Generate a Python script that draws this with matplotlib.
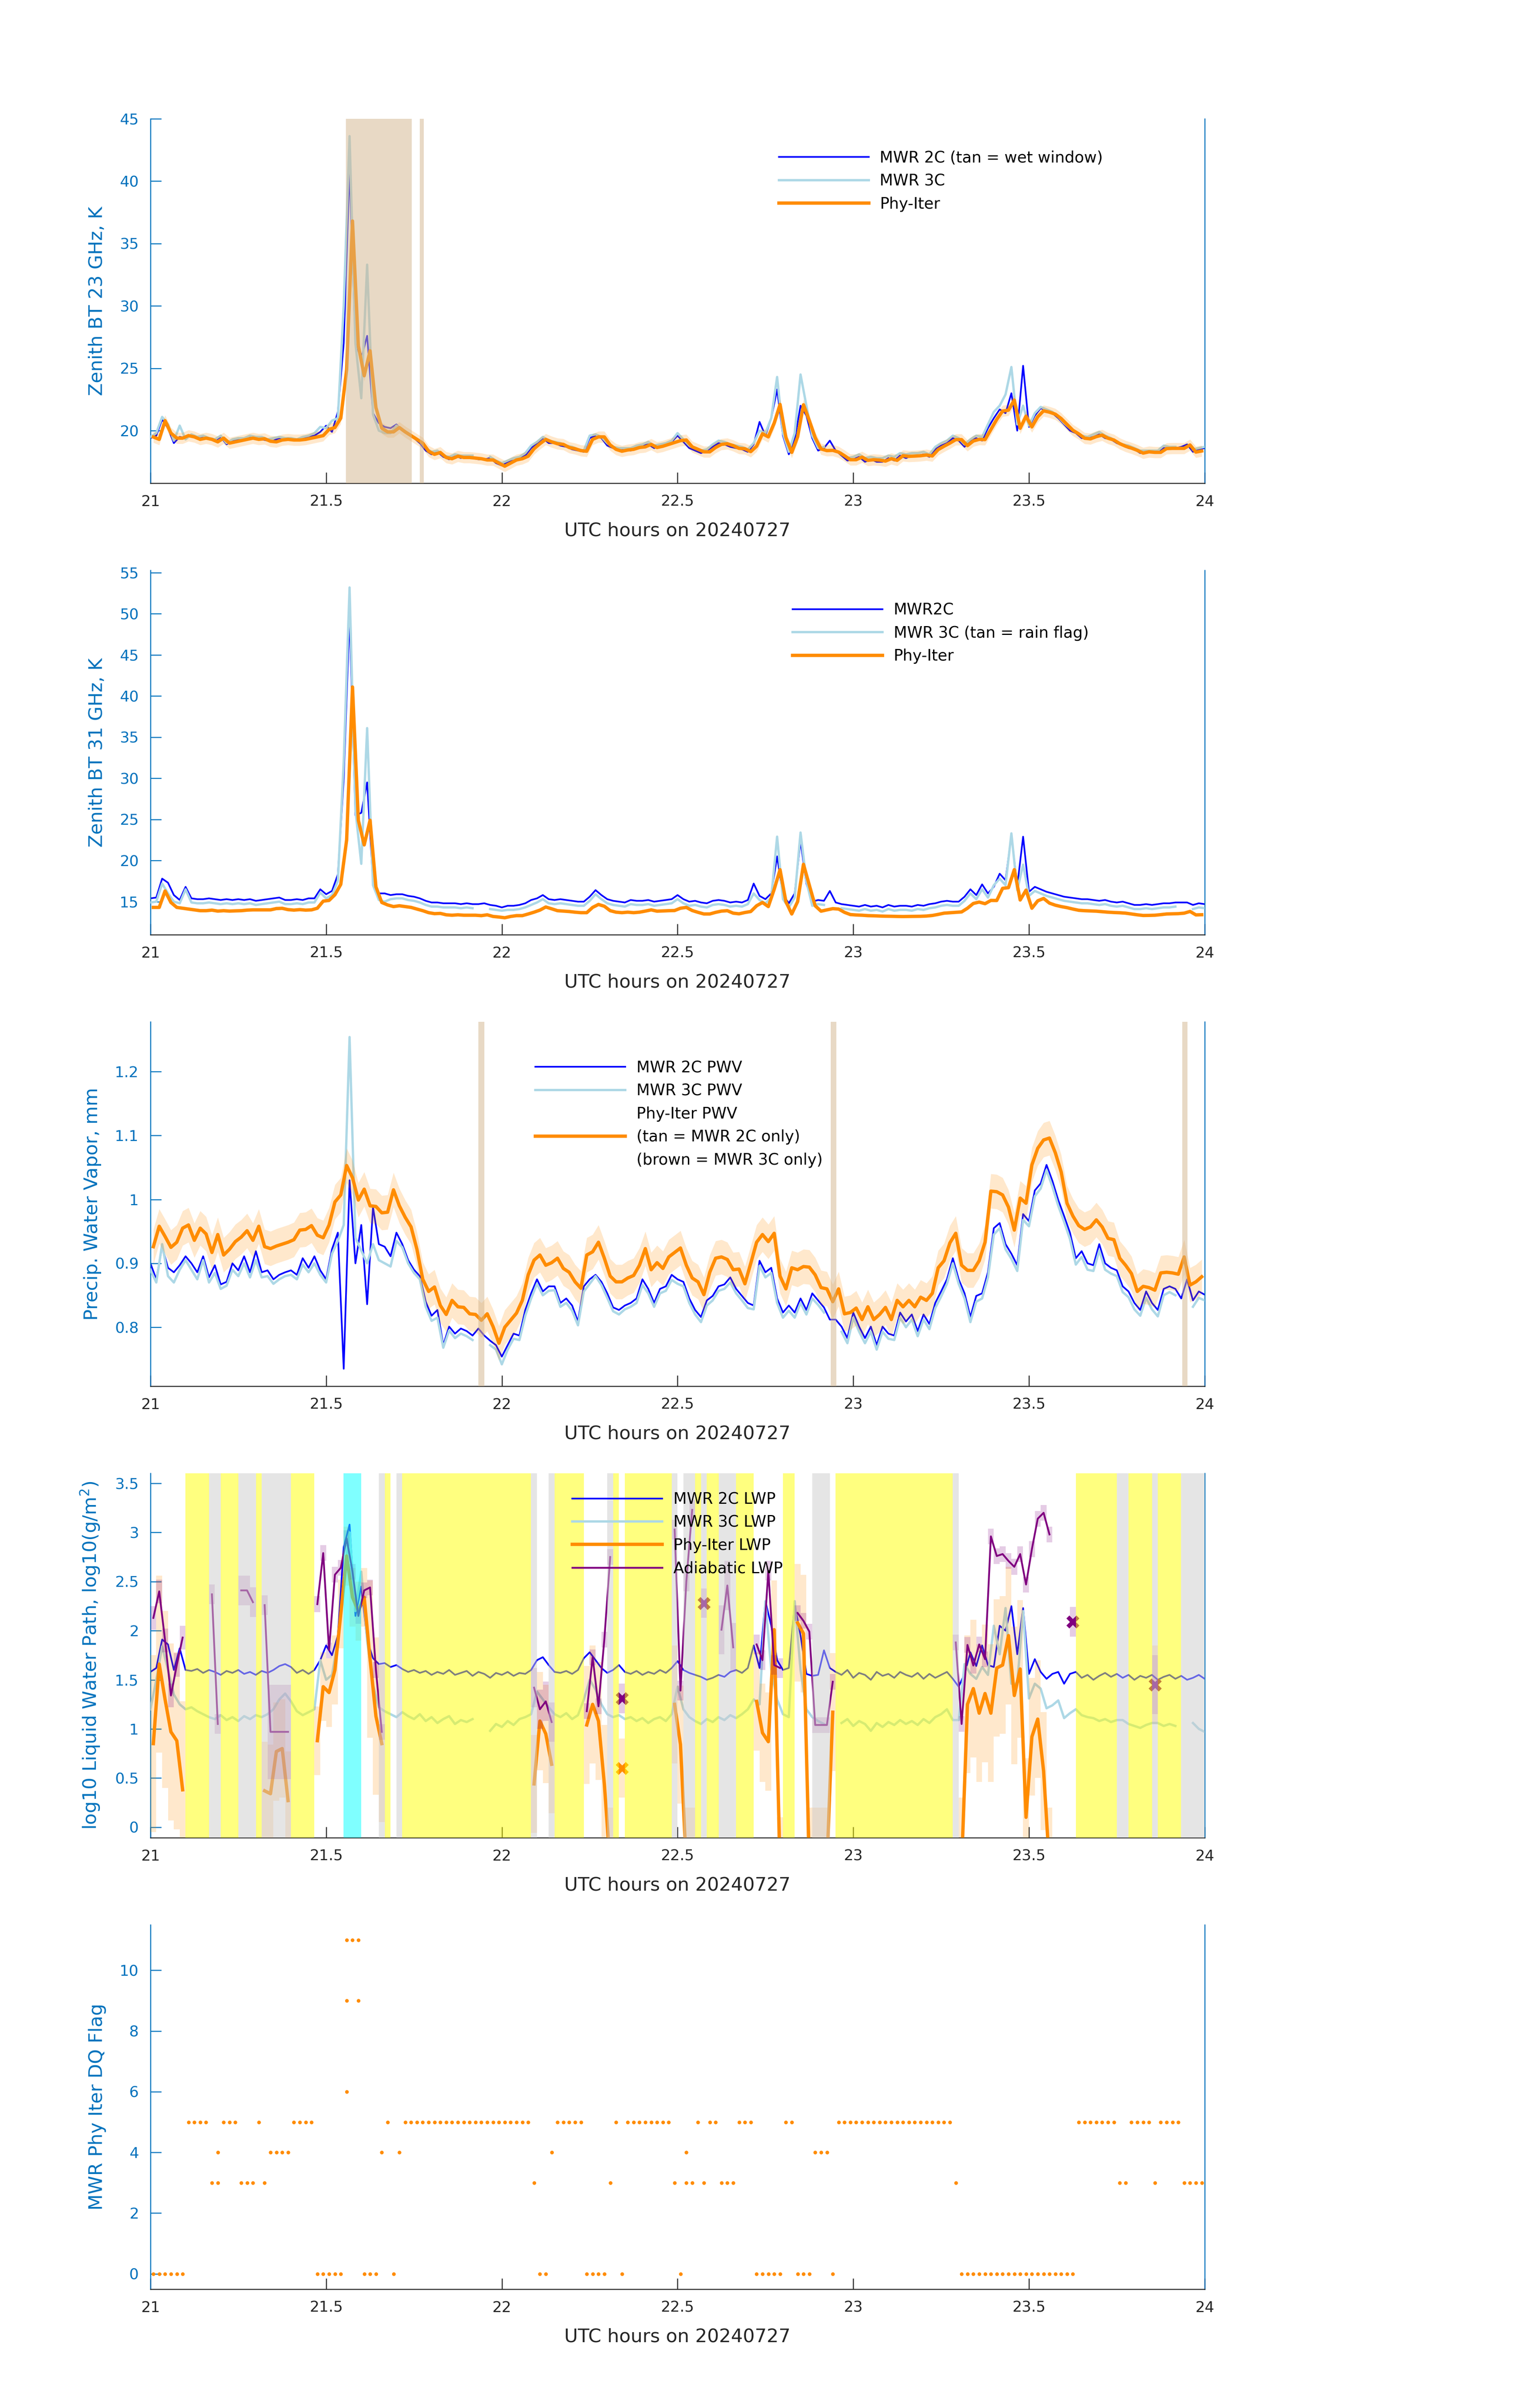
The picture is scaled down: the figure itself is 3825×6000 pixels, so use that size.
import numpy as np
import matplotlib
matplotlib.use("Agg")
import matplotlib.pyplot as plt
from matplotlib.ticker import FuncFormatter
from matplotlib.lines import Line2D

nan = np.nan

# ======================= DATA =======================
# MWR samples: one per minute starting 21:00 UTC.  Phy-Iter samples: one per minute, centred on hh:mm:30.

# ---- Panel 1: zenith BT 23 GHz (K)
p1_2c = [19.4, 19.6, 20.9, 20.2, 19.0, 19.5, 19.4, 19.6, 19.4, 19.5,
         19.3, 19.2, 19.5, 18.9, 19.2, 19.3, 19.2, 19.5, 19.4, 19.3,
         19.2, 19.2, 19.4, 19.3, 19.3, 19.2, 19.4, 19.5, 19.6, 19.9,
         20.4, 19.9, 21.5, 27.0, 41.0, 27.0, 25.8, 27.6, 21.4, 20.6,
         20.3, 20.2, 20.5, 20.0, 19.7, 19.4, 19.0, 18.4, 18.1, 18.3,
         17.9, 17.7, 18.0, 17.8, 17.9, 17.8, 17.7, 17.7, 17.8, 17.4,
         17.2, 17.5, 17.6, 17.8, 18.0, 18.6, 19.0, 19.4, 19.0, 19.0,
         18.8, 18.7, 18.5, 18.4, 18.3, 19.4, 19.6, 19.4, 18.8, 18.6,
         18.4, 18.5, 18.4, 18.6, 18.8, 18.9, 18.6, 18.8, 18.9, 19.1,
         19.6, 19.1, 18.6, 18.4, 18.2, 18.4, 18.7, 19.0, 18.9, 18.7,
         18.6, 18.5, 18.3, 18.9, 20.7, 19.6, 21.0, 23.3, 19.6, 18.1,
         19.3, 22.0, 21.2, 19.4, 18.4, 18.6, 19.2, 18.4, 18.0, 17.6,
         17.7, 17.9, 17.5, 17.7, 17.5, 17.5, 17.8, 17.6, 18.0, 17.8,
         18.0, 18.0, 18.1, 17.9, 18.5, 18.8, 19.0, 19.4, 19.2, 18.7,
         19.2, 19.4, 19.2, 20.2, 21.0, 21.7, 21.4, 23.0, 20.0, 25.2,
         20.3, 21.2, 21.8, 21.6, 21.4, 21.0, 20.5, 20.0, 19.8, 19.4,
         19.4, 19.5, 19.7, 19.4, 19.3, 19.0, 18.8, 18.6, 18.5, 18.2,
         18.3, 18.3, 18.2, 18.6, 18.6, 18.6, 18.7, 18.9, 18.3, 18.5, 18.6]
p1_3c = [19.5, 19.8, 21.1, 20.5, 19.2, 20.4, 19.3, 19.7, 19.5, 19.6,
         19.4, 19.3, 19.6, 19.0, 19.3, 19.4, 19.4, 19.6, 19.5, 19.5,
         19.3, 19.4, 19.5, 19.4, 19.4, 19.3, 19.5, 19.6, 19.8, 20.3,
         20.2, 20.8, 21.0, 30.0, 43.6, 27.0, 22.6, 33.3, 21.3, 20.0,
         19.8, 19.8, 20.4, 20.1, 19.8, 19.5, 19.2, 18.6, 18.3, 18.4,
         18.0, 17.9, 18.1, 18.0, 18.0, 18.0, nan, nan, 17.9, 17.6,
         17.4, 17.6, 17.8, 17.9, 18.2, 18.8, 19.1, 19.5, 19.2, 19.1,
         19.0, 18.8, 18.7, 18.5, 18.4, 19.6, 19.7, 19.5, 19.0, 18.7,
         18.6, 18.6, 18.6, 18.8, 18.9, 19.1, 18.8, 18.9, 19.0, 19.2,
         19.8, 19.3, 18.8, 18.6, 18.4, 18.5, 18.9, 19.2, 19.1, 18.9,
         18.8, 18.7, 18.5, 19.0, 20.0, 19.8, 21.0, 24.3, 19.8, 18.3,
         19.8, 24.5, 22.0, 19.6, 18.6, 18.7, nan, nan, 18.2, 17.8,
         17.9, 18.1, 17.8, 17.9, 17.8, 17.8, 18.0, 17.9, 18.2, 18.1,
         18.2, 18.2, 18.3, 18.1, 18.7, 19.0, 19.2, 19.6, 19.4, 18.9,
         19.3, 19.6, 19.5, 20.5, 21.5, 22.0, 22.9, 25.1, 20.5, 22.0,
         20.4, 21.4, 21.9, 21.7, 21.5, 21.1, 20.6, 20.2, 19.9, 19.6,
         19.5, 19.7, 19.9, 19.6, 19.4, 19.1, 18.9, 18.8, 18.6, 18.4,
         18.4, 18.4, 18.4, 18.8, 18.7, 18.7, nan, nan, 18.5, 18.6, 18.7]
p1_pi = [19.49, 19.3, 20.8, 19.8, 19.4, 19.4, 19.6, 19.5, 19.3, 19.4,
         19.3, 19.1, 19.4, 19.0, 19.1, 19.2, 19.3, 19.4, 19.3, 19.35,
         19.15, 19.1, 19.25, 19.3, 19.25, 19.25, 19.3, 19.4, 19.5, 19.6,
         20.1, 20.25, 21.0, 24.9, 36.8, 26.8, 24.4, 26.4, 21.85, 20.2,
         19.9, 19.9, 20.25, 19.9, 19.6, 19.3, 19.0, 18.35, 18.1, 18.25,
         17.85, 17.75, 17.95, 17.85, 17.85, 17.8, 17.75, 17.65, 17.65, 17.4,
         17.15, 17.4, 17.65, 17.75, 17.95, 18.55, 18.95, 19.3, 19.1, 18.95,
         18.9, 18.65, 18.55, 18.4, 18.35, 19.3, 19.5, 19.5, 18.85, 18.5,
         18.35, 18.45, 18.5, 18.65, 18.7, 18.9, 18.65, 18.75, 18.9, 19.05,
         19.2, 19.25, 18.7, 18.5, 18.3, 18.3, 18.65, 18.9, 18.95, 18.8,
         18.58, 18.55, 18.32, 18.75, 19.75, 19.5, 20.6, 22.1, 19.45, 18.26,
         19.5, 22.07, 20.8, 19.44, 18.53, 18.4, 18.42, 18.28, 17.99, 17.67,
         17.67, 17.88, 17.62, 17.67, 17.64, 17.56, 17.75, 17.62, 17.99, 17.94,
         17.96, 17.99, 18.05, 17.97, 18.48, 18.75, 19.0, 19.28, 19.28, 18.8,
         19.17, 19.3, 19.28, 20.09, 20.9, 21.57, 21.64, 22.45, 20.19, 21.16,
         20.3, 21.11, 21.59, 21.48, 21.32, 20.97, 20.5, 20.03, 19.74, 19.39,
         19.34, 19.52, 19.64, 19.39, 19.25, 18.96, 18.75, 18.6, 18.42, 18.2,
         18.3, 18.26, 18.26, 18.56, 18.58, 18.58, 18.58, 18.85, 18.28, 18.37]
p1_pi_err = 0.45
p1_tan_spans = [(21.556, 21.744), (21.767, 21.778)]

# ---- Panel 2: zenith BT 31 GHz (K)
p2_2c = [15.4, 15.5, 17.8, 17.3, 15.8, 15.2, 16.8, 15.4, 15.3, 15.3,
         15.4, 15.3, 15.2, 15.3, 15.2, 15.3, 15.2, 15.3, 15.1, 15.2,
         15.3, 15.4, 15.5, 15.2, 15.2, 15.3, 15.2, 15.4, 15.4, 16.5,
         15.9, 16.3, 18.3, 30.0, 49.9, 25.5, 25.8, 29.5, 17.5, 16.0,
         16.0, 15.8, 15.9, 15.9, 15.7, 15.6, 15.4, 15.1, 14.9, 14.9,
         14.8, 14.8, 14.8, 14.7, 14.8, 14.7, 14.7, 14.8, 14.6, 14.5,
         14.3, 14.5, 14.5, 14.6, 14.8, 15.2, 15.4, 15.8, 15.3, 15.2,
         15.3, 15.2, 15.1, 15.0, 15.0, 15.6, 16.4, 15.8, 15.3, 15.1,
         15.0, 14.9, 15.2, 15.1, 15.1, 15.2, 15.0, 15.1, 15.2, 15.3,
         15.8, 15.3, 15.0, 15.1, 14.9, 14.8, 15.1, 15.2, 15.1, 14.9,
         15.0, 14.9, 15.2, 17.2, 15.7, 15.3, 16.0, 20.5, 15.8, 14.8,
         16.0, 22.4, 17.2, 15.0, 15.2, 15.1, 16.3, 14.9, 14.7, 14.6,
         14.5, 14.4, 14.6, 14.4, 14.5, 14.3, 14.6, 14.4, 14.5, 14.5,
         14.4, 14.6, 14.5, 14.7, 14.8, 15.0, 15.1, 15.0, 15.0, 15.6,
         16.5, 15.8, 17.1, 16.0, 16.8, 18.4, 17.6, 23.1, 16.9, 22.9,
         16.2, 16.8, 16.5, 16.2, 16.0, 15.8, 15.6, 15.5, 15.4, 15.3,
         15.3, 15.2, 15.1, 15.2, 15.0, 14.9, 15.0, 14.8, 14.6, 14.6,
         14.7, 14.6, 14.7, 14.8, 14.8, 14.9, 14.9, 14.9, 14.6, 14.8, 14.7]
p2_3c = [14.9, 15.0, 17.2, 16.0, 15.0, 14.8, 16.5, 14.9, 14.8, 14.8,
         14.9, 14.8, 14.7, 14.8, 14.7, 14.8, 14.7, 14.8, 14.6, 14.7,
         14.8, 14.9, 15.0, 14.7, 14.7, 14.8, 14.7, 14.9, 14.9, 16.1,
         15.4, 15.8, 17.5, 32.0, 53.2, 26.1, 19.6, 36.1, 17.0, 15.2,
         15.0, 15.3, 15.4, 15.4, 15.2, 15.1, 14.9, 14.6, 14.4, 14.4,
         14.3, 14.3, 14.3, 14.2, 14.3, 14.2, nan, nan, 14.1, 14.0,
         13.9, 14.0, 14.0, 14.1, 14.3, 14.6, 14.9, 15.3, 14.8, 14.7,
         14.8, 14.7, 14.6, 14.5, 14.5, 15.1, 15.9, 15.3, 14.8, 14.6,
         14.5, 14.4, 14.7, 14.6, 14.6, 14.7, 14.5, 14.6, 14.7, 14.8,
         15.3, 14.8, 14.5, 14.6, 14.4, 14.3, 14.6, 14.7, 14.6, 14.4,
         14.5, 14.4, 14.7, 16.0, 15.2, 14.8, 15.5, 22.9, 15.3, 14.3,
         15.5, 23.4, 17.5, 14.5, 14.7, 14.6, nan, nan, 14.2, 14.1,
         14.0, 13.9, 14.1, 13.9, 14.0, 13.8, 14.1, 13.9, 14.0, 14.0,
         13.9, 14.1, 14.0, 14.2, 14.3, 14.5, 14.6, 14.5, 14.5, 15.1,
         16.0, 15.3, 16.5, 15.5, 17.0, 17.8, 17.0, 23.3, 16.4, 19.5,
         15.7, 16.3, 16.0, 15.7, 15.5, 15.3, 15.1, 15.0, 14.9, 14.8,
         14.8, 14.7, 14.6, 14.7, 14.5, 14.4, 14.5, 14.3, 14.1, 14.1,
         14.2, 14.1, 14.2, 14.3, 14.3, 14.4, nan, nan, 14.1, 14.3, 14.2]
p2_pi = [14.3, 14.3, 16.3, 14.9, 14.3, 14.2, 14.1, 14.0, 13.9, 13.9,
         13.97, 13.85, 13.9, 13.85, 13.88, 13.9, 13.97, 14.0, 14.0, 14.0,
         14.0, 14.16, 14.19, 14.03, 13.97, 14.03, 13.97, 14.0, 14.2, 15.06,
         15.15, 15.84, 17.1, 22.5, 41.1, 24.9, 21.9, 24.9, 16.8, 14.9,
         14.6, 14.4, 14.5, 14.4, 14.3, 14.1, 13.9, 13.66, 13.54, 13.57,
         13.4, 13.35, 13.4, 13.35, 13.35, 13.35, 13.3, 13.4, 13.2, 13.13,
         13.04, 13.2, 13.3, 13.3, 13.5, 13.72, 13.97, 14.35, 14.13, 13.9,
         13.85, 13.8, 13.72, 13.66, 13.66, 14.3, 14.66, 14.44, 13.9, 13.72,
         13.66, 13.72, 13.66, 13.72, 13.85, 14.0, 13.84, 13.87, 13.9, 13.92,
         14.2, 14.3, 13.92, 13.7, 13.5, 13.5, 13.7, 13.85, 13.9, 13.6,
         13.52, 13.68, 13.8, 14.5, 14.9, 14.4, 16.5, 18.89, 15.0, 13.5,
         15.0, 19.54, 17.0, 14.5, 13.84, 14.0, 14.15, 14.1, 13.7, 13.43,
         13.38, 13.35, 13.3, 13.28, 13.25, 13.23, 13.22, 13.2, 13.19, 13.2,
         13.21, 13.22, 13.25, 13.32, 13.45, 13.6, 13.65, 13.7, 13.75, 14.2,
         14.78, 14.95, 14.75, 15.15, 15.14, 16.62, 16.7, 18.89, 15.2, 16.4,
         14.2, 15.1, 15.39, 14.82, 14.57, 14.4, 14.27, 14.1, 13.95, 13.9,
         13.87, 13.84, 13.78, 13.72, 13.68, 13.65, 13.6, 13.5, 13.4, 13.32,
         13.33, 13.35, 13.42, 13.5, 13.52, 13.54, 13.6, 13.81, 13.39, 13.41]
p2_pi_err = 0.15

# ---- Panel 3: precipitable water vapour (mm)
p3_2c = [0.900, 0.875, 0.926, 0.893, 0.886, 0.897, 0.911, 0.900, 0.886, 0.911,
         0.878, 0.897, 0.867, 0.871, 0.900, 0.889, 0.911, 0.886, 0.919, 0.886,
         0.889, 0.875, 0.882, 0.886, 0.889, 0.882, 0.908, 0.893, 0.911, 0.889,
         0.875, 0.922, 0.948, 0.735, 1.030, 0.900, 0.960, 0.836, 0.988, 0.930,
         0.926, 0.911, 0.948, 0.930, 0.905, 0.890, 0.880, 0.840, 0.818, 0.827,
         0.772, 0.801, 0.790, 0.798, 0.794, 0.787, 0.798, 0.787, 0.779, 0.772,
         0.754, 0.772, 0.790, 0.787, 0.827, 0.853, 0.875, 0.856, 0.864, 0.864,
         0.838, 0.845, 0.834, 0.809, 0.864, 0.875, 0.882, 0.871, 0.853, 0.831,
         0.827, 0.834, 0.838, 0.845, 0.875, 0.860, 0.838, 0.860, 0.864, 0.882,
         0.875, 0.871, 0.845, 0.827, 0.816, 0.842, 0.849, 0.864, 0.867, 0.878,
         0.860, 0.849, 0.838, 0.834, 0.904, 0.886, 0.893, 0.845, 0.823, 0.834,
         0.823, 0.845, 0.827, 0.853, 0.842, 0.831, 0.812, 0.812, 0.801, 0.783,
         0.823, 0.801, 0.783, 0.801, 0.772, 0.801, 0.790, 0.787, 0.823, 0.809,
         0.820, 0.794, 0.820, 0.805, 0.838, 0.856, 0.875, 0.908, 0.875, 0.853,
         0.816, 0.849, 0.853, 0.886, 0.955, 0.963, 0.930, 0.915, 0.897, 0.977,
         0.966, 1.014, 1.025, 1.054, 1.029, 0.999, 0.974, 0.948, 0.908, 0.919,
         0.900, 0.897, 0.930, 0.900, 0.893, 0.889, 0.864, 0.856, 0.838, 0.827,
         0.856, 0.838, 0.827, 0.860, 0.864, 0.860, 0.845, 0.875, 0.842, 0.856, 0.851]
p3_3c = [0.890, 0.870, 0.930, 0.880, 0.870, 0.890, 0.905, 0.890, 0.875, 0.905,
         0.870, 0.885, 0.860, 0.865, 0.890, 0.880, 0.900, 0.878, 0.905, 0.878,
         0.880, 0.868, 0.875, 0.880, 0.882, 0.875, 0.898, 0.886, 0.900, 0.882,
         0.870, 0.915, 0.935, 0.960, 1.254, 0.940, 0.920, 0.900, 0.930, 0.905,
         0.900, 0.895, 0.935, 0.925, 0.900, 0.885, 0.875, 0.832, 0.810, 0.815,
         0.768, 0.795, 0.783, 0.790, 0.786, 0.780, nan, nan, 0.772, 0.765,
         0.742, 0.765, 0.782, 0.780, 0.818, 0.845, 0.868, 0.850, 0.857, 0.858,
         0.832, 0.838, 0.826, 0.803, 0.856, 0.868, 0.880, 0.866, 0.846, 0.825,
         0.820, 0.828, 0.832, 0.838, 0.866, 0.853, 0.832, 0.853, 0.857, 0.874,
         0.868, 0.864, 0.838, 0.820, 0.808, 0.834, 0.842, 0.857, 0.860, 0.870,
         0.853, 0.842, 0.830, 0.828, 0.896, 0.878, 0.885, 0.838, 0.815, 0.826,
         0.815, 0.838, 0.820, 0.845, 0.835, 0.823, nan, nan, 0.793, 0.775,
         0.815, 0.793, 0.775, 0.793, 0.765, 0.793, 0.782, 0.780, 0.815, 0.800,
         0.812, 0.786, 0.812, 0.797, 0.830, 0.848, 0.868, 0.900, 0.868, 0.845,
         0.808, 0.840, 0.845, 0.878, 0.945, 0.955, 0.922, 0.907, 0.888, 0.968,
         0.958, 1.005, 1.017, 1.046, 1.020, 0.990, 0.965, 0.938, 0.898, 0.910,
         0.890, 0.888, 0.920, 0.890, 0.884, 0.880, 0.855, 0.847, 0.828, 0.818,
         0.846, 0.828, 0.817, 0.850, 0.855, 0.850, nan, nan, 0.832, 0.846, 0.842]
p3_pi = [0.926, 0.958, 0.942, 0.925, 0.933, 0.955, 0.960, 0.936, 0.955, 0.946,
         0.917, 0.945, 0.913, 0.922, 0.934, 0.941, 0.951, 0.936, 0.958, 0.926,
         0.923, 0.927, 0.930, 0.933, 0.937, 0.952, 0.953, 0.959, 0.944, 0.940,
         0.960, 0.996, 1.007, 1.053, 1.034, 0.999, 1.016, 0.990, 0.989, 0.979,
         0.980, 1.015, 0.990, 0.972, 0.957, 0.922, 0.875, 0.856, 0.863, 0.834,
         0.820, 0.842, 0.832, 0.831, 0.821, 0.820, 0.811, 0.821, 0.801, 0.775,
         0.800, 0.811, 0.822, 0.842, 0.882, 0.905, 0.913, 0.897, 0.901, 0.908,
         0.892, 0.886, 0.871, 0.861, 0.913, 0.918, 0.933, 0.908, 0.880, 0.871,
         0.871, 0.877, 0.881, 0.897, 0.923, 0.890, 0.901, 0.892, 0.910, 0.917,
         0.924, 0.897, 0.877, 0.871, 0.851, 0.886, 0.908, 0.910, 0.906, 0.890,
         0.891, 0.868, 0.900, 0.933, 0.945, 0.934, 0.947, 0.880, 0.860, 0.893,
         0.890, 0.895, 0.894, 0.882, 0.862, 0.860, 0.840, 0.860, 0.821, 0.823,
         0.830, 0.812, 0.832, 0.812, 0.820, 0.831, 0.812, 0.842, 0.832, 0.842,
         0.832, 0.847, 0.842, 0.853, 0.893, 0.904, 0.932, 0.947, 0.897, 0.889,
         0.889, 0.904, 0.933, 1.013, 1.012, 1.007, 0.988, 0.952, 1.002, 0.994,
         1.054, 1.080, 1.093, 1.096, 1.073, 1.043, 0.994, 0.974, 0.959, 0.953,
         0.957, 0.968, 0.957, 0.939, 0.937, 0.908, 0.897, 0.884, 0.856, 0.864,
         0.862, 0.858, 0.885, 0.886, 0.885, 0.883, 0.910, 0.866, 0.871, 0.879]
p3_pi_err = 0.027
p3_tan_spans = [(21.933, 21.950), (22.936, 22.952), (23.936, 23.951)]

# ---- Panel 4: log10 LWP
p4_2c = [1.58, 1.62, 1.91, 1.86, 1.60, 1.82, 1.60, 1.59, 1.61, 1.57,
         1.60, 1.58, 1.55, 1.59, 1.57, 1.60, 1.56, 1.58, 1.55, 1.59,
         1.57, 1.60, 1.64, 1.66, 1.63, 1.57, 1.60, 1.56, 1.60, 1.70,
         1.85, 1.75, 1.95, 2.85, 3.08, 2.15, 2.45, 1.90, 1.72, 1.66,
         1.67, 1.63, 1.65, 1.61, 1.58, 1.60, 1.57, 1.59, 1.55, 1.58,
         1.56, 1.60, 1.55, 1.57, 1.59, 1.54, 1.58, 1.56, 1.52, 1.57,
         1.55, 1.58, 1.54, 1.57, 1.56, 1.60, 1.70, 1.73, 1.65, 1.58,
         1.57, 1.59, 1.56, 1.60, 1.72, 1.78, 1.70, 1.62, 1.57, 1.60,
         1.65, 1.58, 1.56, 1.59, 1.55, 1.58, 1.56, 1.60, 1.57, 1.62,
         1.69, 1.60, 1.57, 1.55, 1.53, 1.50, 1.52, 1.55, 1.53, 1.58,
         1.60, 1.57, 1.62, 1.85, 1.62, 2.30, 2.05, 1.70, 1.60, 1.62,
         2.26, 1.95, 1.56, 1.54, 1.55, 1.80, 1.62, 1.58, 1.55, 1.60,
         1.52, 1.57, 1.55, 1.50, 1.58, 1.54, 1.56, 1.52, 1.58, 1.55,
         1.53, 1.57, 1.51, 1.56, 1.52, 1.55, 1.58, 1.51, 1.43, 1.56,
         1.78, 1.64, 1.85, 1.65, 1.63, 2.05, 2.00, 2.25, 1.76, 2.23,
         1.56, 1.71, 1.58, 1.51, 1.56, 1.58, 1.46, 1.56, 1.58, 1.52,
         1.55, 1.50, 1.54, 1.57, 1.53, 1.56, 1.52, 1.55, 1.50, 1.54,
         1.52, 1.55, 1.50, 1.53, 1.55, 1.51, 1.54, 1.50, 1.52, 1.55, 1.51]
p4_3c = [1.20, 1.50, 1.84, 1.60, 1.35, 1.25, 1.20, 1.22, 1.18, 1.15,
         1.12, 1.10, 1.14, 1.09, 1.12, 1.08, 1.13, 1.10, 1.14, 1.12,
         1.15, 1.20, 1.30, 1.36, 1.28, 1.18, 1.14, 1.17, 1.20, 1.70,
         1.50, 1.55, 1.90, 2.50, 3.00, 2.20, 2.60, 1.90, 1.45, 1.22,
         1.18, 1.15, 1.12, 1.17, 1.13, 1.10, 1.15, 1.08, 1.12, 1.06,
         1.10, 1.13, 1.05, 1.09, 1.07, 1.10, nan, nan, 0.98, 1.05,
         1.02, 1.08, 1.04, 1.10, 1.12, 1.15, 1.38, 1.30, 1.22, 1.15,
         1.12, 1.16, 1.10, 1.14, 1.30, 1.50, 1.40, 1.25, 1.15, 1.12,
         1.14, 1.10, 1.12, 1.08, 1.11, 1.06, 1.10, 1.12, 1.08, 1.15,
         1.43, 1.20, 1.12, 1.08, 1.05, 1.10, 1.07, 1.12, 1.09, 1.14,
         1.11, 1.15, 1.20, 1.30, 1.25, 2.30, 1.60, 1.30, 1.15, 1.12,
         2.30, 1.60, 1.20, 1.12, 1.08, 1.05, nan, nan, 1.06, 1.10,
         1.03, 1.08, 1.05, 0.98, 1.06, 1.02, 1.07, 1.04, 1.09, 1.05,
         1.08, 1.04, 1.10, 1.06, 1.12, 1.15, 1.20, 1.09, 1.09, 1.66,
         1.56, 1.51, 1.63, 1.55, 2.05, 1.76, 2.23, 1.46, 1.46, 2.20,
         1.31, 1.46, 1.41, 1.21, 1.24, 1.29, 1.11, 1.16, 1.20, 1.14,
         1.12, 1.11, 1.08, 1.10, 1.07, 1.09, 1.09, 1.05, 1.03, 1.01,
         1.04, 1.06, 1.06, 1.03, 1.05, 1.03, nan, nan, 1.06, 1.00, 0.97]
# Phy-Iter LWP and adiabatic LWP: (first sample index, values, uncertainty)
p4_pi_segments = [
    (0, [0.85, 1.66, 1.30, 0.97, 0.88, 0.38], 0.9),
    (19, [0.37, 0.34, 0.77, 0.80, 0.27], 0.5),
    (28, [0.88, 1.43, 1.37, 1.60, 2.17], 0.35),
    (33, [2.76, 2.34, 2.20, 2.34], 0.3),
    (37, [1.71, 1.13, 0.85], 0.8),
    (65, [0.44, 1.08, 0.95, 0.64], 0.5),
    (74, [1.04, 1.25, 1.08, 0.44, -0.40], 0.6),
    (80, [0.60], 0.3),
    (89, [1.25, 0.84, -0.40, -0.40], 0.6),
    (103, [1.28, 0.96, 0.87, 2.01, -0.40], 0.5),
    (110, [2.08, 1.97, -0.40, -0.40, -0.40, -0.40, 1.17], 0.6),
    (138, [-0.40, 1.25, 1.41, 1.16, 1.36, 1.16, 1.62, 1.65, 1.95, 1.34, 1.61], 0.7),
    (149, [0.10, 0.92, 1.10, 0.57, -0.40], 0.6),
    (171, [1.45], 0.4),
]
p4_adi_segments = [
    (0, [2.13, 2.40, 1.90, 1.34, 1.65, 1.93], 0.12),
    (10, [2.37, 1.05], 0.1),
    (15, [2.41, 2.41, 2.29], 0.15),
    (19, [2.26], 0.1),
    (20, [0.97, 0.97, 0.97, 0.97], 0.48),
    (28, [2.27, 2.79, 1.80, 2.57, 2.64, 2.94, 2.60, 2.15, 2.41, 2.44, 1.60, 0.97], 0.08),
    (65, [1.42, 1.20, 1.28, 1.07], 0.2),
    (74, [1.18, 1.73, 1.23, 1.91, 2.75], 0.08),
    (80, [1.31], 0.15),
    (89, [3.03, 1.39, 2.50, 3.23], 0.1),
    (94, [2.28], 0.15),
    (97, [2.01, 2.46, 1.83], 0.25),
    (103, [1.86, 1.70, 2.61, 1.65, 1.62], 0.1),
    (110, [2.18, 2.10, 1.99, 1.04, 1.04, 1.04, 1.48], 0.08),
    (137, [1.88, 1.05, 1.855, 1.645, 1.86, 1.71, 2.96, 2.76, 2.78, 2.71,
           2.65, 2.78, 2.47, 2.83, 3.14, 3.20, 2.98], 0.08),
    (157, [2.09], 0.15),
    (171, [1.45], 0.3),
]

# ---- Panel 5: Phy-Iter data-quality flags, runs of sample indices (inclusive)
dq_runs = {
    0: [(0, 5), (28, 32), (36, 38), (41, 41), (66, 67), (74, 77), (80, 80), (90, 90),
        (103, 107), (110, 112), (116, 116), (138, 157)],
    3: [(10, 11), (15, 17), (19, 19), (65, 65), (78, 78), (89, 89), (91, 92), (94, 94),
        (97, 99), (137, 137), (165, 166), (171, 171), (176, 179)],
    4: [(11, 11), (20, 23), (39, 39), (42, 42), (68, 68), (91, 91), (113, 115)],
    5: [(6, 9), (12, 14), (18, 18), (24, 27), (40, 40), (43, 64), (69, 73), (79, 79),
        (81, 88), (93, 93), (95, 96), (100, 102), (108, 109), (117, 136), (158, 164),
        (167, 170), (172, 175)],
    6: [(33, 33)],
    9: [(33, 33), (35, 35)],
    11: [(33, 35)],
}
n_pi = 180

xticks = [21, 21.5, 22, 22.5, 23, 23.5, 24]
xlabel = "UTC hours on 20240727"

# ======================= STYLE =======================
C_AX = "#0072BD"
C_TXT = "#262626"
C_2C = "blue"
C_3C = "lightblue"
C_PI = "darkorange"
C_ADI = "purple"
FS_TICK = 9.0
FS_LAB = 11.2
FS_LEG = 9.3

plt.rcParams["font.family"] = ["DejaVu Sans"]

fig = plt.figure(figsize=(12.75, 20), dpi=300)
L, W, H = 0.098, 0.6868, 0.1513
bottoms = [0.7994, 0.6119, 0.4244, 0.2369, 0.0494]
axes = [fig.add_axes([L, b, W, H]) for b in bottoms]


def t_mwr(v):
    return 21 + np.arange(len(v)) / 60.0


def t_pi(n):
    return 21 + (np.arange(n) + 0.5) / 60.0


def style(ax, ylim, yticks, ylabel, ylabelpad=8):
    ax.set_xlim(21, 24)
    ax.set_ylim(*ylim)
    ax.set_xticks(xticks)
    ax.xaxis.set_major_formatter(FuncFormatter(lambda v, p: f"{v:g}"))
    ax.set_yticks(yticks)
    ax.yaxis.set_major_formatter(FuncFormatter(lambda v, p: f"{v:g}"))
    for s in ("left", "right"):
        ax.spines[s].set_color(C_AX)
        ax.spines[s].set_linewidth(0.6)
    ax.spines["bottom"].set_color(C_TXT)
    ax.spines["bottom"].set_linewidth(0.6)
    ax.spines["top"].set_visible(False)
    ax.tick_params(axis="both", direction="in", length=6.5, width=0.6, pad=7)
    ax.tick_params(axis="y", colors=C_AX, labelsize=FS_TICK)
    ax.tick_params(axis="x", colors=C_TXT, labelsize=FS_TICK)
    ax.set_xlabel(xlabel, fontsize=FS_LAB, color=C_TXT, labelpad=7.5)
    ax.set_ylabel(ylabel, fontsize=FS_LAB, color=C_AX, labelpad=ylabelpad)


def legend(ax, handles, labels, x, y):
    lg = ax.legend(handles, labels, loc="upper left", bbox_to_anchor=(x, y),
                   frameon=False, fontsize=FS_LEG, handlelength=5.8,
                   handletextpad=0.7, labelspacing=0.5, borderpad=0,
                   borderaxespad=0)
    lg.set_zorder(20)
    return lg


def spans(ax, span_list, color):
    for a, b in span_list:
        ax.axvspan(a, b, color=color, alpha=0.5, lw=0, zorder=8)


blank = Line2D([], [], lw=0, color="none")

# ---------------- panels 1-3 ----------------
cfg = [
    (axes[0], p1_2c, p1_3c, p1_pi, p1_pi_err, (15.8, 45.0), [20, 25, 30, 35, 40, 45],
     "Zenith BT 23 GHz, K",
     ["MWR 2C (tan = wet window)", "MWR 3C", "Phy-Iter"], (0.596, 0.913)),
    (axes[1], p2_2c, p2_3c, p2_pi, p2_pi_err, (11.0, 55.3), [15, 20, 25, 30, 35, 40, 45, 50, 55],
     "Zenith BT 31 GHz, K",
     ["MWR2C", "MWR 3C (tan = rain flag)", "Phy-Iter"], (0.609, 0.911)),
    (axes[2], p3_2c, p3_3c, p3_pi, p3_pi_err, (0.708, 1.278), [0.8, 0.9, 1.0, 1.1, 1.2],
     "Precip. Water Vapor, mm",
     ["MWR 2C PWV", "MWR 3C PWV", "Phy-Iter PWV", "(tan = MWR 2C only)",
      "(brown = MWR 3C only)"], (0.365, 0.894)),
]
for ax, v2c, v3c, vpi, err, ylim, yt, ylab, labs, lpos in cfg:
    a2 = np.array(v2c, float)
    a3 = np.array(v3c, float)
    ap = np.array(vpi, float)
    tp = t_pi(len(ap))
    h2, = ax.plot(t_mwr(a2), a2, color=C_2C, lw=1.0, zorder=2)
    h3, = ax.plot(t_mwr(a3), a3, color=C_3C, lw=1.4, zorder=3)
    ax.fill_between(tp, ap - err, ap + err, color=C_PI, alpha=0.2, lw=0, zorder=4)
    hp, = ax.plot(tp, ap, color=C_PI, lw=2.0, zorder=5)
    style(ax, ylim, yt, ylab)
    if len(labs) == 3:
        legend(ax, [h2, h3, hp], labs, *lpos)
    else:
        legend(ax, [h2, h3, blank, hp, blank], labs, *lpos)

spans(axes[0], p1_tan_spans, "tan")
spans(axes[2], p3_tan_spans, "tan")

# ---------------- panel 4 ----------------
ax = axes[3]


def build(segments, n):
    v = np.full(n, np.nan)
    e = np.full(n, np.nan)
    for k0, vals, err in segments:
        v[k0:k0 + len(vals)] = vals
        e[k0:k0 + len(vals)] = err
    return v, e


tp = t_pi(n_pi)
pi_v, pi_e = build(p4_pi_segments, n_pi)
ad_v, ad_e = build(p4_adi_segments, n_pi)
half = 0.5 / 60.0


def step_band(ax, t, v, e, color, z):
    tt = np.column_stack([t - half, t + half]).ravel()
    lo = np.repeat(v - e, 2)
    hi = np.repeat(v + e, 2)
    ax.fill_between(tt, lo, hi, color=color, alpha=0.2, lw=0, zorder=z)


def isolated(v):
    ok = ~np.isnan(v)
    prev = np.r_[False, ok[:-1]]
    nxt = np.r_[ok[1:], False]
    return ok & ~prev & ~nxt


a2 = np.array(p4_2c, float)
a3 = np.array(p4_3c, float)
h2, = ax.plot(t_mwr(a2), a2, color=C_2C, lw=1.0, zorder=2)
h3, = ax.plot(t_mwr(a3), a3, color=C_3C, lw=1.4, zorder=3)
step_band(ax, tp, pi_v, pi_e, C_PI, 4)
hp, = ax.plot(tp, pi_v, color=C_PI, lw=2.0, zorder=5)
step_band(ax, tp, ad_v, ad_e, C_ADI, 6)
ha, = ax.plot(tp, ad_v, color=C_ADI, lw=1.1, zorder=7)
m = isolated(pi_v)
ax.plot(tp[m], pi_v[m], ls="none", marker="x", ms=6, mew=2.5, color=C_PI, zorder=7)
m = isolated(ad_v)
ax.plot(tp[m], ad_v[m], ls="none", marker="x", ms=6, mew=2.5, color=C_ADI, zorder=7.5)

# background flag shading derived from DQ flags
flags_at = [set() for _ in range(n_pi)]
for f, runs in dq_runs.items():
    for a, b in runs:
        for k in range(a, b + 1):
            flags_at[k].add(f)
colors = []
for fs in flags_at:
    if any(f >= 6 for f in fs):
        colors.append("cyan")
    elif 5 in fs:
        colors.append("yellow")
    elif 3 in fs or 4 in fs:
        colors.append((0.8, 0.8, 0.8))
    else:
        colors.append(None)
k = 0
while k < n_pi:
    c = colors[k]
    j = k
    while j + 1 < n_pi and colors[j + 1] == c:
        j += 1
    if c is not None:
        ax.axvspan(tp[k] - half, tp[j] + half, color=c, alpha=0.5, lw=0, zorder=8)
    k = j + 1

style(ax, (-0.106, 3.603), [0, 0.5, 1, 1.5, 2, 2.5, 3, 3.5],
      r"log10 Liquid Water Path, log10(g/m$^2$)")
legend(ax, [h2, h3, hp, ha], ["MWR 2C LWP", "MWR 3C LWP", "Phy-Iter LWP", "Adiabatic LWP"],
       0.400, 0.949)

# ---------------- panel 5 ----------------
ax = axes[4]
for f, runs in dq_runs.items():
    idx = [k for a, b in runs for k in range(a, b + 1)]
    ax.plot(tp[idx], np.full(len(idx), f), ls="none", marker="o", ms=2.2,
            mec="none", color=C_PI, zorder=3)
style(ax, (-0.5, 11.5), [0, 2, 4, 6, 8, 10], "MWR Phy Iter DQ Flag")

fig.savefig("out.png", dpi=300)
